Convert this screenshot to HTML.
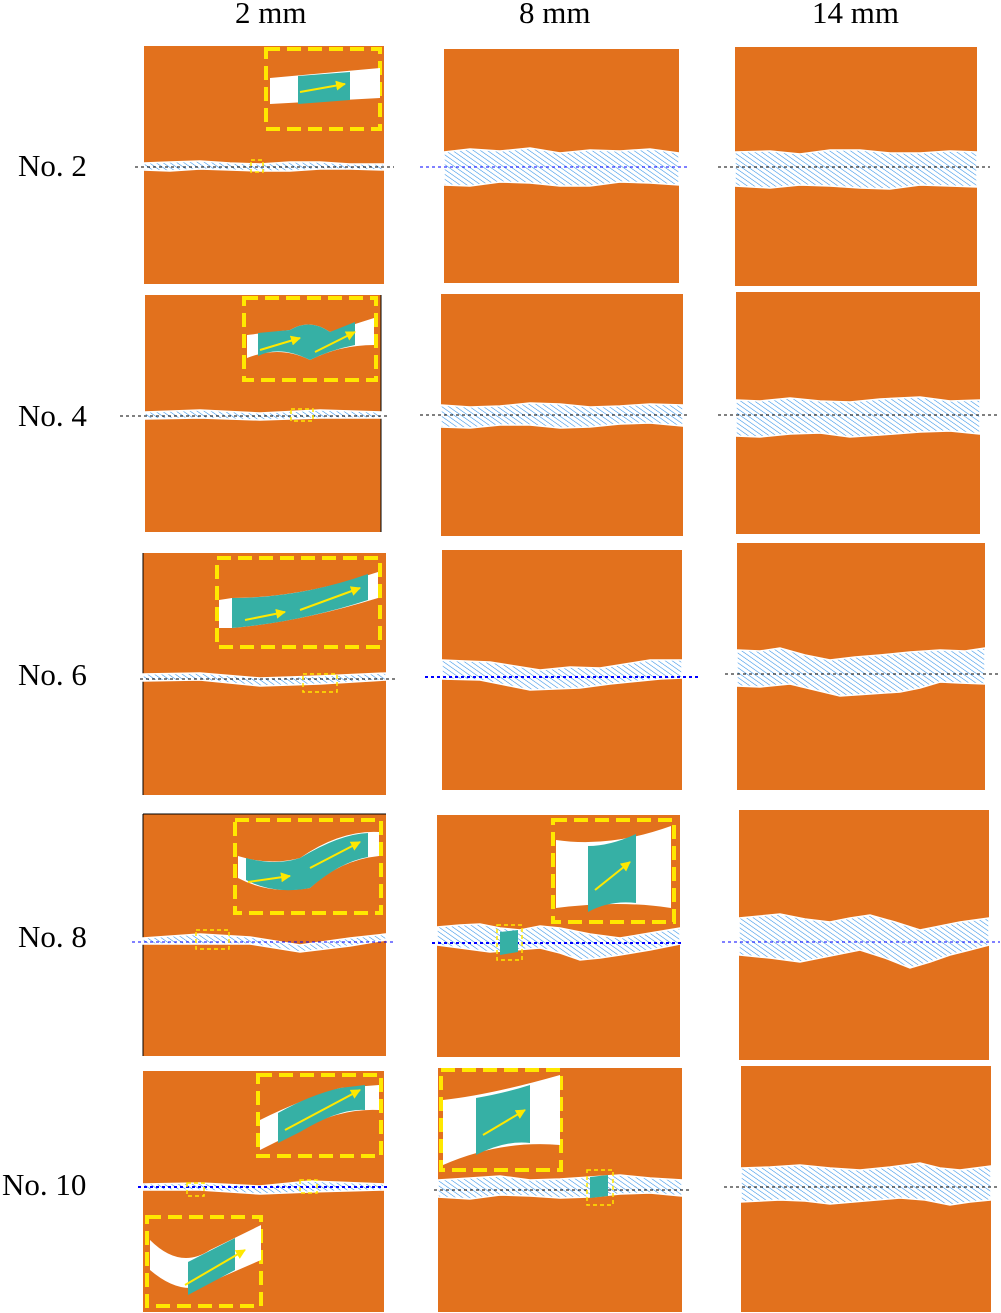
<!DOCTYPE html>
<html><head><meta charset="utf-8"><style>
html,body{margin:0;padding:0;background:#fff;}
svg{display:block;}
text{font-family:"Liberation Serif",serif;font-size:31px;fill:#000;}
</style></head><body>
<svg width="1001" height="1313" viewBox="0 0 1001 1313" xmlns="http://www.w3.org/2000/svg">
<defs>
<pattern id="h" width="4" height="4" patternUnits="userSpaceOnUse" patternTransform="rotate(-55)">
<rect width="4" height="4" fill="#fff"/><line x1="0" y1="0" x2="0" y2="4" stroke="#2f8fe8" stroke-width="1.1"/>
</pattern>
<marker id="a" viewBox="0 0 10 10" refX="9" refY="5" markerWidth="5" markerHeight="5" orient="auto"><path d="M0 0 L10 5 L0 10Z" fill="#FFE800"/></marker>
</defs>
<g fill="#E2711D">
<rect x="144" y="46" width="240" height="238"/><rect x="444" y="49" width="235" height="234"/><rect x="735" y="47" width="242" height="239"/>
<rect x="145" y="295" width="236" height="237"/><rect x="441" y="294" width="242" height="242"/><rect x="736" y="292" width="244" height="242"/>
<rect x="143" y="553" width="243" height="242"/><rect x="442" y="550" width="240" height="240"/><rect x="737" y="543" width="248" height="247"/>
<rect x="143" y="814" width="243" height="242"/><rect x="437" y="815" width="243" height="242"/><rect x="739" y="810" width="250" height="250"/>
<rect x="143" y="1071" width="241" height="241"/><rect x="438" y="1068" width="244" height="244"/><rect x="741" y="1066" width="250" height="246"/>
</g>
<g stroke="#000" stroke-width="1" fill="none">
<line x1="143" y1="553" x2="143" y2="795"/><line x1="143" y1="814" x2="143" y2="1056"/><line x1="143" y1="814" x2="386" y2="814"/><line x1="381" y1="295" x2="381" y2="532"/>
</g>
<g fill="url(#h)" stroke="#fff" stroke-width="1.5">
<path d="M144 163 L170 162 L200 161 L230 163 L260 164 L290 162 L320 162 L350 164 L384 164 L384 170 L350 169 L320 169 L290 171 L260 171 L230 170 L200 169 L170 171 L144 170Z"/>
<path d="M444 152 L470 149 L500 151 L530 148 L560 153 L590 150 L620 151 L650 149 L679 153 L679 185 L650 183 L620 182 L590 186 L560 186 L530 183 L500 182 L470 186 L444 185Z"/>
<path d="M735 152 L770 151 L800 154 L830 150 L860 150 L890 153 L920 153 L950 151 L977 152 L977 187 L950 186 L920 185 L890 189 L860 188 L830 186 L800 185 L770 188 L735 186Z"/>
<path d="M145 412 L200 410 L260 413 L320 410 L381 412 L381 418 L320 418 L260 420 L200 418 L145 419Z"/>
<path d="M441 405 L470 407 L500 406 L530 403 L560 404 L590 407 L620 406 L650 404 L683 405 L683 426 L650 423 L620 424 L590 427 L560 428 L530 425 L500 425 L470 428 L441 427Z"/>
<path d="M736 400 L760 401 L790 398 L820 401 L850 402 L880 399 L920 397 L950 401 L980 400 L980 434 L950 431 L920 432 L880 435 L850 437 L820 433 L790 434 L760 437 L736 436Z"/>
<path d="M143 674 L200 673 L260 678 L320 676 L386 673 L386 680 L320 684 L260 686 L200 680 L143 681Z"/>
<path d="M442 660 L465 661 L490 662 L515 666 L540 670 L570 667 L600 668 L625 664 L650 660 L682 660 L682 678 L660 679 L640 681 L610 684 L580 688 L555 689 L530 690 L505 685 L480 680 L442 679Z"/>
<path d="M737 650 L760 651 L780 648 L805 655 L830 660 L855 657 L880 655 L910 652 L940 650 L965 651 L985 648 L985 684 L960 683 L940 682 L920 688 L900 692 L870 694 L840 696 L815 690 L790 684 L760 687 L737 686Z"/>
<path d="M143 938 L200 934 L250 937 L300 945 L350 938 L386 934 L386 940 L350 946 L300 952 L250 944 L200 944 L143 944Z"/>
<path d="M437 927 L460 925 L480 924 L500 928 L520 930 L540 926 L560 928 L590 934 L620 938 L650 933 L680 928 L680 944 L650 950 L620 955 L600 958 L580 960 L560 953 L540 948 L515 950 L490 952 L460 948 L437 945Z"/>
<path d="M739 918 L760 916 L780 914 L805 919 L830 922 L850 918 L870 915 L895 922 L920 930 L940 926 L960 922 L989 918 L989 945 L970 950 L950 955 L930 962 L910 968 L885 958 L860 950 L830 956 L800 962 L770 958 L739 955Z"/>
<path d="M143 1184 L200 1183 L260 1186 L310 1181 L384 1184 L384 1190 L310 1192 L260 1194 L200 1190 L143 1190Z"/>
<path d="M438 1180 L470 1178 L500 1176 L530 1180 L560 1179 L590 1177 L620 1175 L650 1178 L682 1180 L682 1196 L650 1193 L620 1194 L590 1197 L560 1198 L530 1196 L500 1195 L470 1199 L438 1197Z"/>
<path d="M741 1168 L770 1167 L800 1165 L830 1168 L860 1170 L890 1167 L920 1163 L940 1168 L960 1170 L991 1166 L991 1200 L970 1202 L950 1205 L925 1200 L900 1198 L865 1201 L830 1204 L805 1201 L780 1200 L741 1202Z"/>
</g>
<g stroke-width="1" stroke-dasharray="3,3" fill="none">
<line x1="135" y1="167" x2="394" y2="167" stroke="#000"/><line x1="420" y1="167" x2="690" y2="167" stroke="#00f"/><line x1="718" y1="167" x2="990" y2="167" stroke="#000"/>
<line x1="120" y1="416" x2="390" y2="416" stroke="#000"/><line x1="420" y1="415" x2="690" y2="415" stroke="#000"/><line x1="718" y1="415" x2="1000" y2="415" stroke="#000"/>
<line x1="140" y1="679" x2="396" y2="679" stroke="#000"/><line x1="425" y1="677" x2="698" y2="677" stroke="#00f" stroke-width="2"/><line x1="725" y1="674" x2="998" y2="674" stroke="#000"/>
<line x1="132" y1="942" x2="396" y2="942" stroke="#00f"/><line x1="432" y1="943" x2="684" y2="943" stroke="#00f" stroke-width="2"/><line x1="722" y1="942" x2="1000" y2="942" stroke="#00f"/>
<line x1="138" y1="1187" x2="388" y2="1187" stroke="#00f" stroke-width="2"/><line x1="434" y1="1190" x2="690" y2="1190" stroke="#000"/><line x1="724" y1="1187" x2="1000" y2="1187" stroke="#000"/>
</g>
<g stroke="#FFE800" stroke-width="4" stroke-dasharray="14,7" fill="none">
<rect x="266" y="49" width="114" height="80"/><rect x="244" y="298" width="132" height="82"/><rect x="217" y="558" width="163" height="89"/>
<rect x="235" y="820" width="146" height="93"/><rect x="553" y="820" width="121" height="102"/><rect x="258" y="1075" width="123" height="81"/>
<rect x="441" y="1070" width="120" height="100"/><rect x="147" y="1217" width="114" height="89"/>
</g>
<g stroke="#FFE800" stroke-width="1.5" stroke-dasharray="4,3" fill="none">
<rect x="251" y="160" width="12" height="12"/><rect x="291" y="409" width="22" height="12"/><rect x="303" y="674" width="34" height="18"/>
<rect x="196" y="930" width="33" height="19"/><rect x="497" y="925" width="25" height="35"/><rect x="187" y="1183" width="17" height="13"/>
<rect x="300" y="1180" width="17" height="13"/><rect x="587" y="1170" width="26" height="35"/>
</g>
<g fill="#fff">
<path d="M270 78 L380 68 L380 98 L270 104Z"/>
<path d="M247 335 L290 330 Q310 318 330 332 L374 318 L374 345 Q340 345 310 360 Q280 345 247 358Z"/>
<path d="M219 600 L232 598 Q300 598 378 572 L378 598 Q300 622 232 628 L219 628Z"/>
<path d="M238 856 Q270 866 300 858 Q340 830 379 832 L379 856 Q340 860 310 888 Q270 895 238 878Z"/>
<path d="M556 840 Q610 848 671 826 L671 908 Q620 900 556 908Z"/>
<path d="M260 1120 Q300 1100 340 1088 L379 1085 L379 1110 Q340 1108 300 1130 L260 1150Z"/>
<path d="M443 1100 Q490 1095 560 1075 L560 1145 Q500 1140 443 1165Z"/>
<path d="M150 1240 Q180 1270 210 1250 L261 1225 L261 1260 L215 1280 Q185 1300 150 1270Z"/>
</g>
<g fill="#36B0A5">
<path d="M298 76 L350 72 L350 100 L298 104Z"/>
<path d="M258 333 L290 330 Q310 318 330 332 L355 322 L355 345 Q330 350 310 360 Q280 345 258 356Z"/>
<path d="M232 598 Q300 598 368 574 L368 600 Q300 622 232 628Z"/>
<path d="M246 858 Q275 866 300 858 Q340 834 368 833 L368 857 Q340 862 310 888 Q275 895 246 880Z"/>
<path d="M588 846 Q610 846 636 834 L636 903 Q610 900 588 912Z"/>
<path d="M278 1113 Q310 1095 340 1088 L365 1085 L365 1110 Q340 1108 300 1132 L278 1143Z"/>
<path d="M476 1098 Q505 1093 530 1085 L530 1143 Q505 1140 476 1155Z"/>
<path d="M188 1262 L235 1238 L235 1270 L188 1295Z"/>
<path d="M590 1177 L608 1175 L608 1196 L590 1198Z"/><path d="M500 932 L518 930 L518 952 L500 955Z"/>
</g>
<g stroke="#FFE800" stroke-width="2" fill="none" marker-end="url(#a)">
<line x1="300" y1="92" x2="345" y2="84"/><line x1="260" y1="350" x2="300" y2="338"/><line x1="315" y1="352" x2="355" y2="332"/>
<line x1="245" y1="620" x2="285" y2="612"/><line x1="300" y1="610" x2="360" y2="588"/><line x1="248" y1="882" x2="290" y2="876"/><line x1="310" y1="868" x2="360" y2="842"/>
<line x1="595" y1="890" x2="630" y2="862"/><line x1="285" y1="1130" x2="360" y2="1090"/><line x1="483" y1="1135" x2="525" y2="1110"/><line x1="185" y1="1285" x2="245" y2="1250"/>
</g>
<g>
<text x="235" y="23">2 mm</text><text x="519" y="23">8 mm</text><text x="812" y="23">14 mm</text>
<text x="18" y="176">No. 2</text><text x="18" y="426">No. 4</text><text x="18" y="685">No. 6</text><text x="18" y="947">No. 8</text><text x="2" y="1195">No. 10</text>
</g>
</svg>
</body></html>
